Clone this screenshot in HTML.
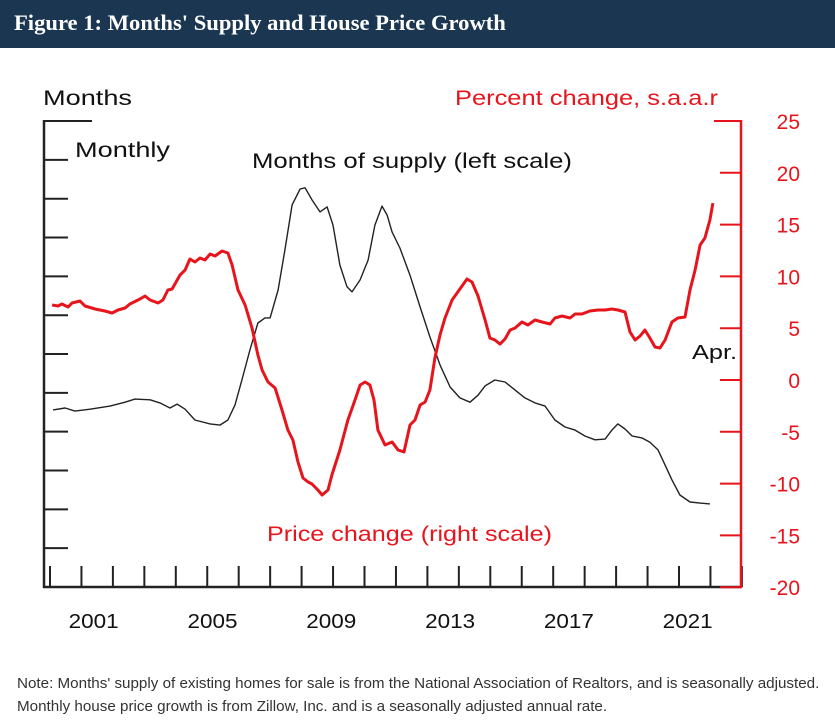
<!DOCTYPE html>
<html><head><meta charset="utf-8">
<style>
body{margin:0;width:835px;height:723px;background:#fff;overflow:hidden;font-family:"Liberation Sans",sans-serif}
#hdr{position:absolute;left:0;top:0;width:835px;height:48px;background:#1b3651;color:#fff;font-family:"Liberation Serif",serif;font-weight:bold;font-size:22.6px;line-height:46px;padding-left:14px;box-sizing:border-box;white-space:nowrap}
#note{position:absolute;left:17px;top:672px;font-size:15.2px;color:#333;line-height:23px;white-space:nowrap}
svg{position:absolute;left:0;top:0}
</style></head><body>
<div id="hdr">Figure 1: Months' Supply and House Price Growth</div>
<svg id="chart" width="835" height="660"></svg>
<div id="note">Note: Months' supply of existing homes for sale is from the National Association of Realtors, and is seasonally adjusted.<br>Monthly house price growth is from Zillow, Inc. and is a seasonally adjusted annual rate.</div>
<script>
const supplyYears=[2000.10,2000.51,2000.84,2001.35,2002.02,2002.53,2002.86,2003.37,2003.70,2004.04,2004.28,2004.55,2004.88,2005.39,2005.72,2005.99,2006.23,2006.46,2006.73,2007.00,2007.24,2007.41,2007.68,2007.91,2008.15,2008.42,2008.59,2008.82,2009.09,2009.33,2009.53,2009.76,2010.00,2010.17,2010.44,2010.71,2010.94,2011.18,2011.35,2011.52,2011.78,2012.12,2012.46,2012.79,2013.13,2013.47,2013.80,2014.14,2014.41,2014.65,2014.98,2015.32,2015.66,2015.99,2016.33,2016.67,2017.00,2017.34,2017.68,2018.01,2018.35,2018.69,2018.92,2019.12,2019.36,2019.60,2019.93,2020.20,2020.47,2020.71,2020.94,2021.21,2021.55,2021.89,2022.22];
const supplyValues=[4.56,4.61,4.53,4.58,4.66,4.76,4.84,4.82,4.74,4.61,4.71,4.58,4.30,4.20,4.17,4.30,4.69,5.33,6.10,6.80,6.93,6.93,7.65,8.68,9.84,10.25,10.28,9.97,9.66,9.79,9.32,8.29,7.73,7.60,7.91,8.42,9.32,9.81,9.58,9.14,8.73,8.03,7.21,6.44,5.72,5.15,4.87,4.76,4.94,5.18,5.33,5.28,5.07,4.87,4.74,4.66,4.30,4.12,4.04,3.89,3.79,3.81,4.04,4.20,4.07,3.89,3.84,3.73,3.53,3.14,2.76,2.37,2.19,2.16,2.14];
const priceYears=[2000.07,2000.27,2000.40,2000.61,2000.74,2001.01,2001.18,2001.52,2001.68,2001.85,2002.09,2002.29,2002.53,2002.69,2003.03,2003.20,2003.37,2003.64,2003.80,2003.97,2004.11,2004.38,2004.55,2004.71,2004.88,2005.05,2005.22,2005.39,2005.56,2005.79,2005.99,2006.13,2006.33,2006.57,2006.80,2007.00,2007.14,2007.34,2007.58,2007.81,2008.01,2008.18,2008.35,2008.52,2008.69,2008.82,2009.02,2009.16,2009.36,2009.49,2009.76,2010.03,2010.27,2010.44,2010.61,2010.77,2010.91,2011.04,2011.28,2011.52,2011.72,2011.92,2012.12,2012.29,2012.46,2012.63,2012.79,2012.96,2013.13,2013.30,2013.54,2013.80,2014.04,2014.21,2014.41,2014.65,2014.81,2014.98,2015.15,2015.32,2015.49,2015.66,2015.89,2016.09,2016.33,2016.57,2016.84,2017.00,2017.24,2017.51,2017.68,2017.91,2018.18,2018.45,2018.69,2018.92,2019.12,2019.36,2019.53,2019.70,2019.87,2020.03,2020.20,2020.37,2020.54,2020.71,2020.94,2021.14,2021.38,2021.55,2021.72,2021.89,2022.05,2022.22,2022.32];
const priceValues=[7.24,7.14,7.34,7.05,7.43,7.63,7.14,6.85,6.76,6.66,6.47,6.76,6.95,7.34,7.82,8.11,7.72,7.43,7.72,8.69,8.78,10.14,10.62,11.68,11.39,11.78,11.58,12.16,11.97,12.45,12.26,11.10,8.69,7.24,5.02,2.41,0.97,-0.19,-0.77,-2.90,-4.83,-5.79,-7.92,-9.46,-9.85,-10.04,-10.62,-11.10,-10.62,-9.17,-6.76,-3.86,-1.93,-0.48,-0.19,-0.48,-1.93,-4.83,-6.27,-5.98,-6.76,-6.95,-4.34,-3.86,-2.41,-2.12,-0.97,2.12,4.34,5.98,7.72,8.78,9.75,9.46,8.11,5.79,4.05,3.86,3.47,3.96,4.83,5.02,5.60,5.31,5.79,5.60,5.41,5.98,6.18,5.98,6.37,6.37,6.66,6.76,6.76,6.85,6.76,6.56,4.63,3.86,4.25,4.83,4.05,3.19,3.09,3.86,5.60,5.98,6.08,8.69,10.62,13.03,13.71,15.44,17.08];
const rightTicks=[25,20,15,10,5,0,-5,-10,-15,-20];
const leftTicks=[0,1,2,3,4,5,6,7,8,9,10,11,12];
const yearLabels=[2001,2005,2009,2013,2017,2021];

const NS='http://www.w3.org/2000/svg';
const svg=document.getElementById('chart');
const RED='#e8141c';
const xS=t=>50+(t-2000)*29.7;
const yL=v=>587-v*38.83;
const yR=v=>380-v*10.36;
function mk(tag,attrs,parent){const e=document.createElementNS(NS,tag);for(const k in attrs)e.setAttribute(k,attrs[k]);(parent||svg).appendChild(e);return e;}
function txt(s,x,y,size,fill,anchor,len){const e=mk('text',{x:x,y:y,'font-size':size,fill:fill,'text-anchor':anchor||'start','font-family':'Liberation Sans, sans-serif'});if(len){e.setAttribute('textLength',len);e.setAttribute('lengthAdjust','spacingAndGlyphs');}e.textContent=s;return e;}

let a=mk('line',{x1:44,y1:120,x2:44,y2:588,stroke:'#222','stroke-width':2.5});

leftTicks.forEach(v=>{const y=yL(v);if(v===0)return;
 const t=mk('line',{x1:44,y1:y,x2:v===12?92:68,y2:y,stroke:'#222','stroke-width':2});
 });
a=mk('line',{x1:43,y1:587,x2:742,y2:587,stroke:'#222','stroke-width':2.5});

for(let i=0;i<23;i++){const x=50+i*31.45;
 const t=mk('line',{x1:x,y1:587,x2:x,y2:566,stroke:'#222','stroke-width':2});
 }
yearLabels.forEach(yr=>{const t=txt(String(yr),xS(yr)+14,628,20,'#111','middle',50);
 });
a=mk('line',{x1:741,y1:120,x2:741,y2:588,stroke:RED,'stroke-width':2.5});

rightTicks.forEach(v=>{const y=yR(v);
 const t=mk('line',{x1:v===25?714:720,y1:y,x2:741,y2:y,stroke:RED,'stroke-width':2});
 
 const l=txt(String(v),800,y+8,21,RED,'end');
 });
let d=supplyYears.map((t,i)=>(i?'L':'M')+xS(t).toFixed(1)+','+yL(supplyValues[i]).toFixed(1)).join('');
let p=mk('path',{d:d,fill:'none',stroke:'#222','stroke-width':1.4,'stroke-linejoin':'round'});

d=priceYears.map((t,i)=>(i?'L':'M')+xS(t).toFixed(1)+','+yR(priceValues[i]).toFixed(1)).join('');
p=mk('path',{d:d,fill:'none',stroke:RED,'stroke-width':3,'stroke-linejoin':'round'});

let l;
l=txt('Months',43,105,21,'#111','start',89);
l=txt('Percent change, s.a.a.r',455,105,21,RED,'start',263);
l=txt('Monthly',75,157,21,'#111','start',95);
l=txt('Months of supply (left scale)',252,168,21,'#111','start',320);
l=txt('Price change (right scale)',267,541,21,RED,'start',285);
l=txt('Apr.',692,359,20,'#111','start',45);
</script>
</body></html>
